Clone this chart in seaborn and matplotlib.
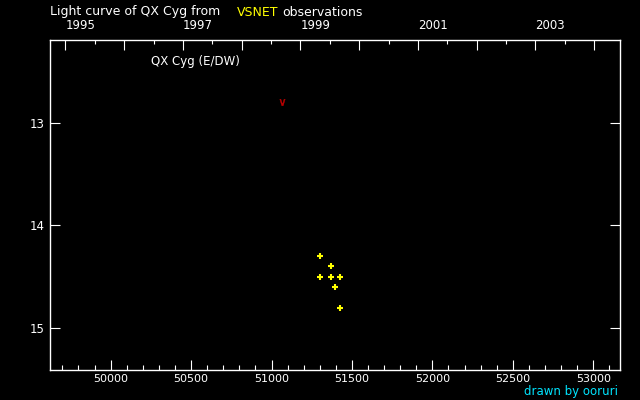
"""
Light curve of QX Cyg (VSNET) - recreated with seaborn/matplotlib.
"""

import numpy as np
import pandas as pd
import matplotlib
matplotlib.use("Agg")
import matplotlib.pyplot as plt
import seaborn as sns

# observations (JD - 2400000, visual magnitude)
obs_jd = [51303, 51372, 51303, 51372, 51428, 51397, 51428]
obs_mag = [14.3, 14.4, 14.5, 14.5, 14.5, 14.6, 14.8]

# fainter-than observations
lim_jd = [51065]
lim_mag = [12.8]

x_range = (49625, 53168)
y_range = (15.41, 12.20)
x_major = [50000, 50500, 51000, 51500, 52000, 52500, 53000]
y_major = [13, 14, 15]
years = list(range(1995, 2005))

star = "QX Cyg (E/DW)"


def year_to_jd(y, month=1, day=1):
    return pd.Timestamp(year=y, month=month, day=day).to_julian_date() - 2400000


def main():
    sns.set_theme(style="dark")
    plt.rcParams["font.family"] = ["DejaVu Sans"]

    fig = plt.figure(figsize=(6.4, 4.0), dpi=100, facecolor="black")
    ax = fig.add_axes([50.3 / 640, 1 - 370.3 / 400, 570 / 640, 330 / 400])
    ax.set_facecolor("black")

    df = pd.DataFrame({"jd": obs_jd, "mag": obs_mag})
    sns.scatterplot(data=df, x="jd", y="mag", ax=ax, marker="+", color="#ffff00",
                    edgecolor="#ffff00", s=16, linewidth=1.5, legend=False)
    dl = pd.DataFrame({"jd": lim_jd, "mag": lim_mag})
    sns.scatterplot(data=dl, x="jd", y="mag", ax=ax, marker=r"$\vee$", color="#c00000",
                    edgecolor="#c00000", s=22, linewidth=0.3, legend=False)

    ax.set_xlim(*x_range)
    ax.set_ylim(*y_range)
    ax.set_xlabel("")
    ax.set_ylabel("")
    ax.grid(False)

    for sp in ax.spines.values():
        sp.set_visible(True)
        sp.set_color("white")
        sp.set_linewidth(1.0)

    ax.set_xticks(x_major)
    ax.set_xticks(np.arange(49700, 53168, 100), minor=True)
    ax.set_yticks(y_major)
    ax.set_yticklabels([str(v) for v in y_major])
    ax.tick_params(axis="x", which="major", direction="in", length=7.2, width=0.8,
                   color="white", labelcolor="white", labelsize=8, pad=3,
                   top=False, bottom=True)
    ax.tick_params(axis="x", which="minor", direction="in", length=3.6, width=0.8,
                   color="white", top=False, bottom=True)
    ax.tick_params(axis="y", which="major", direction="in", length=7.2, width=0.8,
                   color="white", labelcolor="white", labelsize=8.5, pad=4,
                   left=True, right=True)

    # top axis with years
    top = ax.twiny()
    top.set_xlim(*x_range)
    top.set_xticks([year_to_jd(y) for y in years])
    top.set_xticklabels([str(y) if y % 2 == 1 else "" for y in years], ha="left")
    top.set_xticks([year_to_jd(y, 7, 2) for y in years[:-1]], minor=True)
    top.tick_params(axis="x", which="major", direction="in", length=7.2, width=0.8,
                    color="white", labelcolor="white", labelsize=8.5, pad=6)
    top.tick_params(axis="x", which="minor", direction="in", length=2.6, width=0.8,
                    color="white")
    top.grid(False)
    for sp in top.spines.values():
        sp.set_visible(False)

    ax.text(0.176, 0.937, star, transform=ax.transAxes, color="white",
            fontsize=8.5, va="center", ha="left")

    # title line
    fig.text(50 / 640, 1 - 12 / 400, "Light curve of QX Cyg from", color="white",
             fontsize=9, va="center", ha="left")
    fig.text(237 / 640, 1 - 12 / 400, "VSNET", color="#ffff00",
             fontsize=9, va="center", ha="left")
    fig.text(282 / 640, 1 - 12 / 400, "observations", color="white",
             fontsize=9, va="center", ha="left")
    fig.text(618 / 640, 1 - 398 / 400, "drawn by ooruri", color="#00e5ff",
             fontsize=8.5, va="bottom", ha="right")

    fig.savefig("out.png", dpi=100, facecolor="black")
    plt.close(fig)


if __name__ == "__main__":
    main()
